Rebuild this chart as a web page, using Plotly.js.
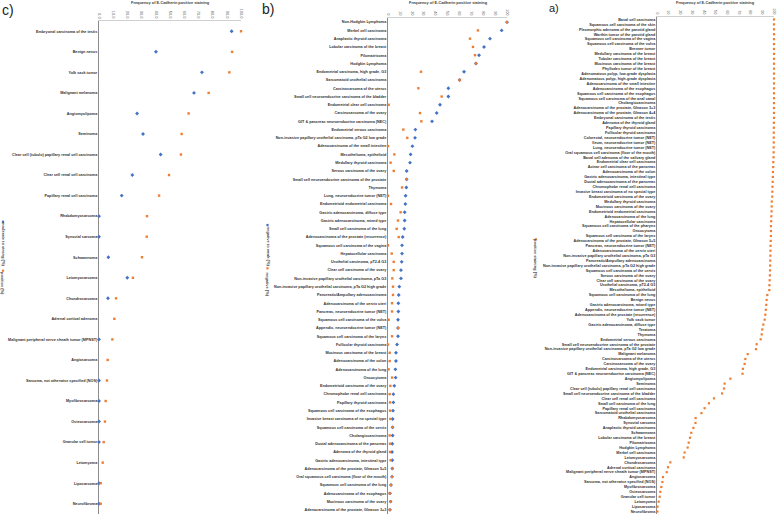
<!DOCTYPE html>
<html><head><meta charset="utf-8">
<script src="https://cdn.plot.ly/plotly-3.0.1.min.js"></script>
<style>html,body{margin:0;padding:0;background:#fff}#chart{width:778px;height:516px}</style>
</head><body><div id="chart"></div>
<script>
// ---------- Panel c ----------
const cCategories = ["Embryonal carcinoma of the testis","Benign nevus","Yolk sack tumor","Malignant melanoma","Angiomyolipoma","Seminoma","Clear cell (tubulo) papillary renal cell carcinoma","Clear cell renal cell carcinoma","Papillary renal cell carcinoma","Rhabdomyosarcoma","Synovial sarcoma","Schwannoma","Leiomyosarcoma","Chondrosarcoma","Adrenal cortical adenoma","Malignant peripheral nerve sheath tumor (MPNST)","Angiosarcoma","Sarcoma, not otherwise specified (NOS)","Myofibrosarcoma","Osteosarcoma","Granular cell tumor","Leiomyoma","Liposarcoma","Neurofibroma"];
const cModerateStrong = [93.4,40.1,72.5,66.9,26.8,31.0,43.4,23.5,16.0,0,0,6.6,19.9,6.3,null,0,null,0,0,0,0,null,0,0];
const cPositive = [100,93.7,91.8,77.2,63.1,58.2,57.7,49.3,42.3,33.8,33.6,30.3,23.9,12.0,10.8,9.4,6.1,5.6,4.7,4.2,3.3,2.6,1.2,1.2];

// ---------- Panel b ----------
const bCategories = ["Non-Hodgkin Lymphoma","Merkel cell carcinoma","Anaplastic thyroid carcinoma","Lobular carcinoma of the breast","Pilomatrixoma","Hodgkin Lymphoma","Endometrial carcinoma, high grade, G3","Sarcomatoid urothelial carcinoma","Carcinosarcoma of the uterus","Small cell neuroendocrine carcinoma of the bladder","Endometrial clear cell carcinoma","Carcinosarcoma of the ovary","GIT & pancreas neuroendocrine carcinoma (NEC)","Endometrial serous carcinoma","Non-invasive papillary urothelial carcinoma, pTa G2 low grade","Adenocarcinoma of the small intestine","Mesothelioma, epithelioid","Medullary thyroid carcinoma","Serous carcinoma of the ovary","Small cell neuroendocrine carcinoma of the prostate","Thymoma","Lung, neuroendocrine tumor (NET)","Endometrioid endometrial carcinoma","Gastric adenocarcinoma, diffuse type","Gastric adenocarcinoma, mixed type","Small cell carcinoma of the lung","Adenocarcinoma of the prostate (recurrence)","Squamous cell carcinoma of the vagina","Hepatocellular carcinoma","Urothelial carcinoma, pT2-4 G3","Clear cell carcinoma of the ovary","Non-invasive papillary urothelial carcinoma, pTa G3","Non-invasive papillary urothelial carcinoma, pTa G2 high grade","Pancreatic/Ampullary adenocarcinoma","Adenocarcinoma of the cervix uteri","Pancreas, neuroendocrine tumor (NET)","Squamous cell carcinoma of the vulva","Appendix, neuroendocrine tumor (NET)","Squamous cell carcinoma of the larynx","Follicular thyroid carcinoma","Mucinous carcinoma of the breast","Adenocarcinoma of the colon","Adenocarcinoma of the lung","Oncocytoma","Endometrioid carcinoma of the ovary","Chromophobe renal cell carcinoma","Papillary thyroid carcinoma","Squamous cell carcinoma of the esophagus","Invasive breast carcinoma of no special type","Squamous cell carcinoma of the cervix","Cholangiocarcinoma","Ductal adenocarcinoma of the pancreas","Adenoma of the thyroid gland","Gastric adenocarcinoma, intestinal type","Adenocarcinoma of the prostate, Gleason 5+5","Oral squamous cell carcinoma (floor of the mouth)","Squamous cell carcinoma of the lung","Adenocarcinoma of the esophagus","Mucinous carcinoma of the ovary","Adenocarcinoma of the prostate, Gleason 3+3"];
const bNegativeToWeak = [100,95.5,85.7,80.7,76.5,73.9,63.9,60.2,50.7,50.7,43.7,40.9,37.0,23.0,22.7,20.5,19.0,18.5,15.7,15.7,15.4,14.8,14.6,14.0,14.0,13.7,12.3,11.8,11.8,11.5,10.9,10.9,9.5,9.0,8.7,8.7,8.4,8.4,8.4,7.6,6.7,6.7,6.2,6.4,5.3,4.5,4.5,4.2,3.9,3.9,3.9,3.6,3.4,3.6,3.6,3.4,2.5,1.7,2.2,1.7];
const bNegative = [100,75.6,68.9,71.4,73.1,73.9,27.7,60.2,25.5,45.1,0.5,26.9,28.0,12.9,16.2,0,5.3,2.2,4.8,15.7,11.8,0,2.5,10.6,8.4,7.3,9.0,0,3.1,4.8,4.8,3.6,4.2,4.2,3.4,3.4,0.5,8.4,3.4,0,1.4,1.4,0.5,3.4,2.0,1.4,1.7,1.7,2.0,3.9,1.4,1.7,1.7,2.2,3.6,3.4,2.5,1.4,2.2,1.4];

// ---------- Panel a ----------
const aCategories = ["Basal cell carcinoma","Squamous cell carcinoma of the skin","Pleomorphic adenoma of the parotid gland","Warthin tumor of the parotid gland","Squamous cell carcinoma of the vagina","Squamous cell carcinoma of the vulva","Brenner tumor","Medullary carcinoma of the breast","Tubular carcinoma of the breast","Mucinous carcinoma of the breast","Phyllodes tumor of the breast","Adenomatous polyp, low-grade dysplasia","Adenomatous polyp, high-grade dysplasia","Adenocarcinoma of the small intestine","Adenocarcinoma of the esophagus","Squamous cell carcinoma of the esophagus","Squamous cell carcinoma of the anal canal","Cholangiocarcinoma","Adenocarcinoma of the prostate, Gleason 3+3","Adenocarcinoma of the prostate, Gleason 4+4","Embryonal carcinoma of the testis","Adenoma of the thyroid gland","Papillary thyroid carcinoma","Follicular thyroid carcinoma","Colorectal, neuroendocrine tumor (NET)","Ileum, neuroendocrine tumor (NET)","Lung, neuroendocrine tumor (NET)","Oral squamous cell carcinoma (floor of the mouth)","Basal cell adenoma of the salivary gland","Endometrial clear cell carcinoma","Acinar cell carcinoma of the pancreas","Adenocarcinoma of the colon","Gastric adenocarcinoma, intestinal type","Ductal adenocarcinoma of the pancreas","Chromophobe renal cell carcinoma","Invasive breast carcinoma of no special type","Endometrioid carcinoma of the ovary","Medullary thyroid carcinoma","Mucinous carcinoma of the ovary","Endometrioid endometrial carcinoma","Adenocarcinoma of the lung","Hepatocellular carcinoma","Squamous cell carcinoma of the pharynx","Oncocytoma","Squamous cell carcinoma of the larynx","Adenocarcinoma of the prostate, Gleason 5+5","Pancreas, neuroendocrine tumor (NET)","Adenocarcinoma of the cervix uteri","Non-invasive papillary urothelial carcinoma, pTa G3","Pancreatic/Ampullary adenocarcinoma","Non-invasive papillary urothelial carcinoma, pTa G2 high grade","Squamous cell carcinoma of the cervix","Serous carcinoma of the ovary","Clear cell carcinoma of the ovary","Urothelial carcinoma, pT2-4 G3","Mesothelioma, epithelioid","Squamous cell carcinoma of the lung","Benign nevus","Gastric adenocarcinoma, mixed type","Appendix, neuroendocrine tumor (NET)","Adenocarcinoma of the prostate (recurrence)","Yolk sack tumor","Gastric adenocarcinoma, diffuse type","Teratoma","Thymoma","Endometrial serous carcinoma","Small cell neuroendocrine carcinoma of the prostate","Non-invasive papillary urothelial carcinoma, pTa G2 low grade","Malignant melanoma","Carcinosarcoma of the uterus","Carcinosarcoma of the ovary","Endometrial carcinoma, high grade, G3","GIT & pancreas neuroendocrine carcinoma (NEC)","Angiomyolipoma","Seminoma","Clear cell (tubulo) papillary renal cell carcinoma","Small cell neuroendocrine carcinoma of the bladder","Clear cell renal cell carcinoma","Small cell carcinoma of the lung","Papillary renal cell carcinoma","Sarcomatoid urothelial carcinoma","Rhabdomyosarcoma","Synovial sarcoma","Anaplastic thyroid carcinoma","Schwannoma","Lobular carcinoma of the breast","Pilomatrixoma","Hodgkin Lymphoma","Merkel cell carcinoma","Leiomyosarcoma","Chondrosarcoma","Adrenal cortical carcinoma","Malignant peripheral nerve sheath tumor (MPNST)","Angiosarcoma","Sarcoma, not otherwise specified (NOS)","Myofibrosarcoma","Osteosarcoma","Granular cell tumor","Leiomyoma","Liposarcoma","Neurofibroma"];
const aPositive = [100,100,100,100,100,100,100,100,100,100,100,100,100,100,100,100,100,100,100,100,100,
  99.9,99.9,99.8,99.8,99.8,99.7,99.7,99.6,99.4,99.3,99.1,99.0,98.9,98.7,98.6,98.5,98.1,98.0,97.9,97.7,97.6,97.4,97.4,97.3,97.2,97.1,97.0,96.9,96.8,96.7,96.6,96.5,96.3,96.1,96.0,
  94.3,93.7,93.4,93.0,92.6,92.0,90.9,90.0,89.5,88.6,85.2,84.6,77.5,75.5,74.9,73.4,73.1,62.7,57.8,57.3,55.6,48.7,44.4,40.7,38.0,33.0,32.9,31.1,29.3,28.2,27.1,26.2,23.6,22.8,11.4,9.4,8.3,5.1,4.6,3.7,2.8,2.3,1.4,0.5,0.3];

const xTicks = [0,10,20,30,40,50,60,70,80,90,100];
const axisTitle = "Frequency of E-Cadherin positive staining";

// ---------- layout helpers ----------
const W = 778, H = 516;
const px = x => x / W, py = y => 1 - y / H;
const BLUE = "#4472C4", ORANGE = "#ED7D31";
const FONT = "Liberation Sans, Arial, sans-serif";

function xAx(x0, x1, y, fmt) {
  return {domain:[px(x0), px(x1)], range:[0,100], side:"top", anchor:y,
    tickmode:"array", tickvals:xTicks, tickformat:fmt, ticksuffix:"%",
    tickangle:90, tickfont:{size:4, color:"#595959", family:FONT},
    showline:true, linecolor:"#d0d0d0", linewidth:1, showgrid:false, zeroline:false,
    ticks:"", fixedrange:true, layer:"below traces"};
}
function yAx(y0, y1, x, cats) {
  return {domain:[py(y1), py(y0)], type:"category", anchor:x,
    range:[cats.length - 0.5, -0.5], tickmode:"array", tickvals:cats, ticktext:cats,
    tickfont:{size:3.75, color:"#333", family:FONT, weight:"bold"},
    showline:true, linecolor:"#8c8c8c", linewidth:1, showgrid:false, zeroline:false,
    ticks:"", fixedrange:true, layer:"below traces"};
}
function tr(x, y, xa, ya, color, symbol, size) {
  return {type:"scatter", mode:"markers", x:x, y:y, xaxis:xa, yaxis:ya, cliponaxis:false,
    marker:{color:color, symbol:symbol, size:size, line:{width:0}}, hoverinfo:"x+y", showlegend:false};
}

const data = [
  tr(cModerateStrong, cCategories, "x", "y", BLUE, "diamond", 3),
  tr(cPositive, cCategories, "x", "y", ORANGE, "square", 2.4),
  tr(bNegativeToWeak, bCategories, "x2", "y2", BLUE, "diamond", 3),
  tr(bNegative, bCategories, "x2", "y2", ORANGE, "square", 2.4),
  tr(aPositive, aCategories, "x3", "y3", ORANGE, "square", 2.2)
];

function ann(text, x, y, size, opts) {
  return Object.assign({text:text, x:px(x), y:py(y), xref:"paper", yref:"paper",
    showarrow:false, xanchor:"center", yanchor:"middle",
    font:{size:size, color:"#404040", family:FONT}}, opts || {});
}
function legendMark(x, y, color) {
  return {type:"rect", xref:"paper", yref:"paper", x0:px(x-1.1), x1:px(x+1.1), y0:py(y+1.1), y1:py(y-1.1),
    fillcolor:color, line:{width:0}};
}

const layout = {
  width:W, height:H, margin:{l:0,r:0,t:0,b:0,pad:0},
  paper_bgcolor:"#fff", plot_bgcolor:"#fff", showlegend:false,
  font:{family:FONT},
  xaxis: xAx(99, 241, "y", ".1f"),
  yaxis: yAx(21, 514, "x", cCategories),
  xaxis2: xAx(388, 507, "y2", "d"),
  yaxis2: yAx(18, 514, "x2", bCategories),
  xaxis3: xAx(657, 774, "y3", "d"),
  yaxis3: yAx(17, 514, "x3", aCategories),
  annotations: [
    ann("c)", 8, 10, 14, {font:{size:14,color:"#222",family:FONT}}),
    ann("b)", 268, 9, 14, {font:{size:14,color:"#222",family:FONT}}),
    ann("a)", 554, 8, 11, {font:{size:11,color:"#222",family:FONT}}),
    ann(axisTitle, 170, 2.5, 3.9, {font:{size:3.9,color:"#404040",family:FONT,weight:"bold"}}),
    ann(axisTitle, 448, 2.5, 3.9, {font:{size:3.9,color:"#404040",family:FONT,weight:"bold"}}),
    ann(axisTitle, 715, 2.5, 3.9, {font:{size:3.9,color:"#404040",family:FONT,weight:"bold"}}),
    ann("moderate to strong (%)", 3, 244, 4, {textangle:90, font:{size:4,color:"#404040",family:FONT,weight:"bold"}}),
    ann("positive (%)", 3, 283, 4, {textangle:90, font:{size:4,color:"#404040",family:FONT,weight:"bold"}}),
    ann("negative to weak (%)", 267.5, 246, 4, {textangle:90, font:{size:4,color:"#404040",family:FONT,weight:"bold"}}),
    ann("negative (%)", 267.5, 284, 4, {textangle:90, font:{size:4,color:"#404040",family:FONT,weight:"bold"}}),
    ann("positive staining (%)", 536, 259, 4, {textangle:90, font:{size:4,color:"#404040",family:FONT,weight:"bold"}})
  ],
  shapes: [
    legendMark(3, 221.7, BLUE), legendMark(3, 270.7, ORANGE),
    legendMark(267.5, 225, BLUE), legendMark(267.5, 268.3, ORANGE),
    legendMark(536, 239.3, ORANGE)
  ]
};

Plotly.newPlot("chart", data, layout, {staticPlot:true, displayModeBar:false});
</script>
</body></html>
